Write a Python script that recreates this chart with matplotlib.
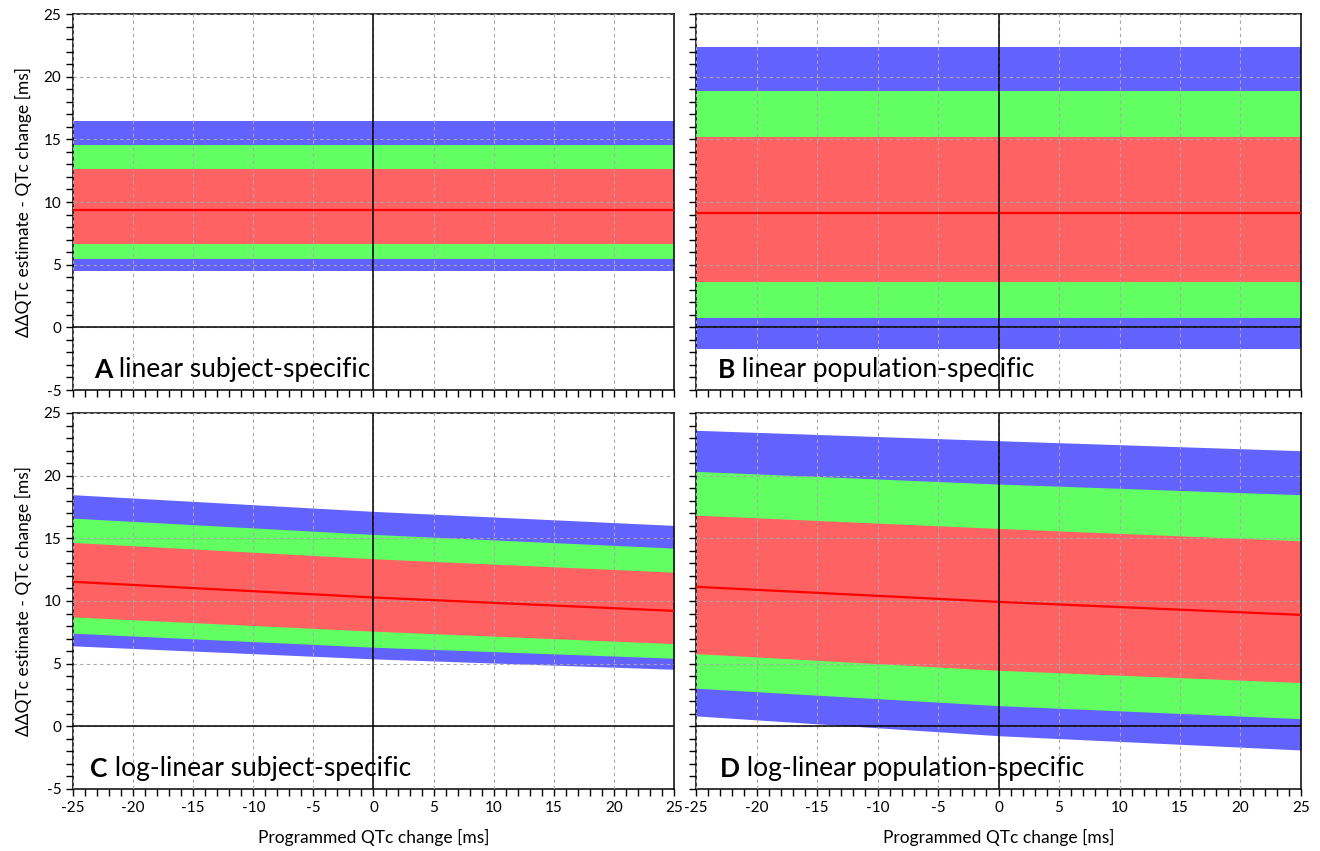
import matplotlib.pyplot as plt
from matplotlib.ticker import MultipleLocator

plt.rcParams['font.family'] = ['Lato', 'DejaVu Sans']
plt.rcParams['axes.unicode_minus'] = False

# programmed QTc change at which the band limits were read
x_qtc = [-25, 0, 25]

# A linear subject-specific
a_blue_hi = [16.5, 16.5, 16.5]
a_green_hi = [14.58, 14.58, 14.58]
a_red_hi = [12.6, 12.6, 12.6]
a_median = [9.4, 9.4, 9.4]
a_red_lo = [6.64, 6.64, 6.64]
a_green_lo = [5.44, 5.44, 5.44]
a_blue_lo = [4.5, 4.5, 4.5]

# B linear population-specific
b_blue_hi = [22.4, 22.4, 22.4]
b_green_hi = [18.84, 18.84, 18.84]
b_red_hi = [15.15, 15.15, 15.15]
b_median = [9.12, 9.12, 9.12]
b_red_lo = [3.62, 3.62, 3.62]
b_green_lo = [0.75, 0.75, 0.75]
b_blue_lo = [-1.73, -1.73, -1.73]

# C log-linear subject-specific
c_blue_hi = [18.48, 17.15, 16.03]
c_green_hi = [16.61, 15.31, 14.22]
c_red_hi = [14.67, 13.37, 12.3]
c_median = [11.53, 10.28, 9.21]
c_red_lo = [8.73, 7.59, 6.6]
c_green_lo = [7.43, 6.31, 5.43]
c_blue_lo = [6.42, 5.38, 4.55]

# D log-linear population-specific
d_blue_hi = [23.62, 22.79, 21.99]
d_green_hi = [20.34, 19.33, 18.48]
d_red_hi = [16.85, 15.79, 14.8]
d_median = [11.13, 9.93, 8.89]
d_red_lo = [5.8, 4.47, 3.49]
d_green_lo = [3.04, 1.65, 0.61]
d_blue_lo = [0.83, -0.75, -1.89]

panel_letters = ['A', 'B', 'C', 'D']
panel_titles = [' linear subject-specific', ' linear population-specific',
                ' log-linear subject-specific', ' log-linear population-specific']

BLUE = '#6262ff'
GREEN = '#62ff62'
RED = '#ff6262'

fig = plt.figure(figsize=(13.2, 8.51), dpi=100)

lefts = [0.0553, 0.5273]
width_l = 0.5106 - 0.0553
width_r = 0.9856 - 0.5273
bottoms = [0.5417, 0.0729]
height = 0.9835 - 0.5417

panels = [
    (a_blue_lo, a_blue_hi, a_green_lo, a_green_hi, a_red_lo, a_red_hi, a_median),
    (b_blue_lo, b_blue_hi, b_green_lo, b_green_hi, b_red_lo, b_red_hi, b_median),
    (c_blue_lo, c_blue_hi, c_green_lo, c_green_hi, c_red_lo, c_red_hi, c_median),
    (d_blue_lo, d_blue_hi, d_green_lo, d_green_hi, d_red_lo, d_red_hi, d_median),
]
label_x = [0.035, 0.036, 0.029, 0.04]

for i, p in enumerate(panels):
    row, col = divmod(i, 2)
    ax = fig.add_axes([lefts[col], bottoms[row], width_l if col == 0 else width_r, height])
    blo, bhi, glo, ghi, rlo, rhi, med = p
    ax.fill_between(x_qtc, blo, bhi, color=BLUE, lw=0, zorder=1)
    ax.fill_between(x_qtc, glo, ghi, color=GREEN, lw=0, zorder=1.1)
    ax.fill_between(x_qtc, rlo, rhi, color=RED, lw=0, zorder=1.2)
    ax.plot(x_qtc, med, color='#ff0000', lw=1.6, zorder=3)
    ax.axhline(0, color='black', lw=1.1, zorder=4)
    ax.axvline(0, color='black', lw=1.1, zorder=4)

    ax.set_xlim(-25, 25)
    ax.set_ylim(-5, 25)
    ax.xaxis.set_major_locator(MultipleLocator(5))
    ax.xaxis.set_minor_locator(MultipleLocator(1))
    ax.yaxis.set_major_locator(MultipleLocator(5))
    ax.yaxis.set_minor_locator(MultipleLocator(1))
    ax.grid(which='major', color='#a8a8a8', ls=(0, (3, 3)), lw=0.8, zorder=2)
    ax.set_axisbelow(False)
    ax.tick_params(which='both', direction='out', length=5, width=1, colors='black',
                   labelsize=11, top=False, right=False)
    for s in ax.spines.values():
        s.set_linewidth(1.1)
        s.set_color('black')

    if col == 1:
        ax.tick_params(labelleft=False)
    else:
        ax.set_ylabel('ΔΔQTc estimate - QTc change [ms]', fontsize=12.5, labelpad=8)
    if row == 0:
        ax.tick_params(labelbottom=False)
    else:
        ax.set_xlabel('Programmed QTc change [ms]', fontsize=12.5, labelpad=10)

    t = ax.text(label_x[i], 0.022, panel_letters[i], transform=ax.transAxes,
                fontsize=19, fontweight='bold', va='bottom', ha='left', zorder=5)
    ax.annotate(panel_titles[i], xy=(1, 0), xycoords=t, fontsize=19,
                va='bottom', ha='left', zorder=5)

fig.savefig('out.png', dpi=100)
